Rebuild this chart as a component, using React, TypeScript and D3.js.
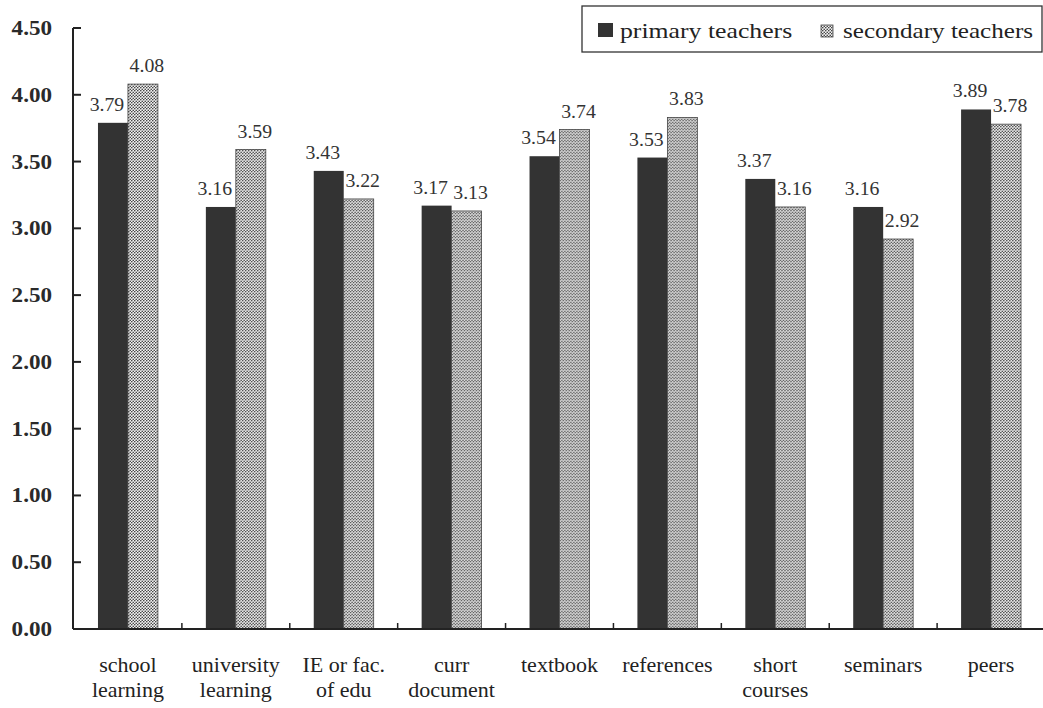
import React from "react";
import * as d3 from "d3";

const categories = [
  "school\nlearning",
  "university\nlearning",
  "IE or fac.\nof edu",
  "curr\ndocument",
  "textbook",
  "references",
  "short\ncourses",
  "seminars",
  "peers",
];
const seriesNames = ["primary teachers", "secondary teachers"];
const primaryValues = [3.79, 3.16, 3.43, 3.17, 3.54, 3.53, 3.37, 3.16, 3.89];
const secondaryValues = [4.08, 3.59, 3.22, 3.13, 3.74, 3.83, 3.16, 2.92, 3.78];
const yTicks = [0, 0.5, 1, 1.5, 2, 2.5, 3, 3.5, 4, 4.5];

const W = 1043;
const H = 708;
const FONT = "'Liberation Serif', 'Times New Roman', serif";

export default function App() {
  const x = d3.scaleBand<string>().domain(categories).range([74, 1045]).paddingInner(0).paddingOuter(0);
  const xs = d3.scaleBand<string>().domain(seriesNames).range([0, x.bandwidth()]).paddingInner(0).paddingOuter(0.8);
  const y = d3.scaleLinear().domain([0, 4.5]).range([629, 28]);
  const fmt = d3.format(".2f");
  const seriesValues = [primaryValues, secondaryValues];
  const fills = ["#333333", "url(#dots)"];
  const labelShift = [-6, 4];

  const axisX = 73;
  const baseY = y(0);

  return (
    <svg
      width={W}
      height={H}
      style={{ position: "absolute", left: 0, top: 0, background: "#fff" }}
      fontFamily={FONT}
    >
      <defs>
        <pattern id="dots" patternUnits="userSpaceOnUse" width={3} height={3}>
          <rect width={3} height={3} fill="#f4f4f4" />
          <circle cx={0.75} cy={0.75} r={0.8} fill="#3a3a3a" />
          <circle cx={2.25} cy={2.25} r={0.8} fill="#3a3a3a" />
        </pattern>
      </defs>
      <rect width={W} height={H} fill="#fff" />

      {/* bars */}
      {categories.map((c, i) => (
        <g key={c} transform={`translate(${x(c)},0)`}>
          {seriesNames.map((s, j) => {
            const v = seriesValues[j][i];
            const bx = xs(s)!;
            const bw = xs.bandwidth();
            return (
              <g key={s}>
                <rect
                  x={bx}
                  y={y(v)}
                  width={bw}
                  height={baseY - y(v)}
                  fill={fills[j]}
                  stroke={j === 1 ? "#444" : "none"}
                  strokeWidth={j === 1 ? 0.8 : 0}
                />
                <text
                  transform={`translate(${bx + bw / 2 + labelShift[j]},${y(v) - 12}) scale(1.1,1)`}
                  textAnchor="middle"
                  fontSize={18}
                  fill="#333"
                >
                  {fmt(v)}
                </text>
              </g>
            );
          })}
        </g>
      ))}

      {/* y axis */}
      <line x1={axisX} x2={axisX} y1={y(4.5)} y2={baseY} stroke="#222" strokeWidth={2} />
      {yTicks.map((t) => (
        <g key={t}>
          <line x1={axisX} x2={axisX + 8} y1={y(t)} y2={y(t)} stroke="#222" strokeWidth={2} />
          <text
            transform={`translate(52,${y(t) + 7}) scale(1.1,1)`}
            textAnchor="end"
            fontSize={21}
            fontWeight="bold"
            fill="#2a2a2a"
          >
            {fmt(t)}
          </text>
        </g>
      ))}

      {/* x axis */}
      <line x1={axisX} x2={W} y1={baseY} y2={baseY} stroke="#222" strokeWidth={2} />
      {categories.slice(1).map((c) => (
        <line key={c} x1={x(c)} x2={x(c)} y1={baseY} y2={baseY - 6} stroke="#222" strokeWidth={1.5} />
      ))}
      {categories.map((c) => {
        const cx = x(c)! + x.bandwidth() / 2;
        return (
          <text key={c} textAnchor="middle" fontSize={22} fill="#222">
            {c.split("\n").map((line, k) => (
              <tspan key={k} x={cx} y={672 + k * 25}>
                {line}
              </tspan>
            ))}
          </text>
        );
      })}

      {/* legend */}
      <rect x={582} y={6} width={460} height={46} fill="#fff" stroke="#333" strokeWidth={1.3} />
      <rect x={598} y={23} width={15} height={14} fill={fills[0]} />
      <text transform="translate(620,38) scale(1.17,1)" fontSize={22} fill="#222">
        {seriesNames[0]}
      </text>
      <rect x={821} y={25} width={12} height={12} fill={fills[1]} stroke="#444" strokeWidth={0.8} />
      <text transform="translate(843,38) scale(1.14,1)" fontSize={22} fill="#222">
        {seriesNames[1]}
      </text>
    </svg>
  );
}
